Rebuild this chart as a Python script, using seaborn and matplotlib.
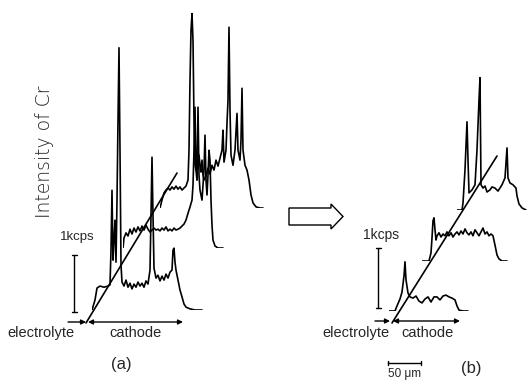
import matplotlib
matplotlib.use("Agg")
import matplotlib.pyplot as plt
from matplotlib.patches import Polygon
import pandas as pd
import seaborn as sns

# ---- Cr line scans (distance along scan in um, Cr intensity in cps) ----
# (a) before: three scans stacked along the depth direction
a1_dist = [0, 4.5, 7.5, 12, 18, 24, 27, 28.5, 30, 31.5, 33, 34.5, 36, 37.5, 39, 40.5, 42,
           43.5, 45, 48, 51, 54, 57, 60, 63, 66, 69, 72, 75, 78, 81, 84, 87, 88.5, 90, 91.5,
           93, 96, 99, 102, 105, 108, 111, 114, 117, 120, 121.5, 123, 124.5, 126, 129, 132,
           135, 138, 141, 147, 154.5, 165]
a1_cps = [0, 175, 385, 420, 400, 420, 440, 1050, 2100, 875, 1225, 1575, 840, 1925, 3325, 4600,
          2800, 790, 490, 420, 525, 400, 470, 370, 455, 400, 490, 420, 470, 400, 510, 455, 700,
          1660, 2680, 1660, 735, 560, 610, 510, 595, 525, 630, 560, 665, 700, 1050, 1085, 840,
          700, 525, 350, 230, 105, 50, 20, 0, 0]

a2_dist = [0, 1.5, 4.5, 7.5, 10.5, 13.5, 16.5, 19.5, 22.5, 25.5, 28.5, 31.5, 34.5, 37.5, 40.5,
           43.5, 46.5, 49.5, 52.5, 55.5, 58.5, 61.5, 64.5, 67.5, 70.5, 73.5, 76.5, 79.5, 82.5,
           85.5, 88.5, 91.5, 94.5, 97.5, 100.5, 103.5, 105, 106.5, 108, 109.5, 111, 112.5, 114,
           115.5, 118.5, 121.5, 123, 124.5, 126, 127.5, 129, 130.5, 132, 133.5, 135, 138, 142.5,
           150]
a2_cps = [0, 175, 265, 210, 330, 245, 350, 280, 370, 300, 385, 315, 400, 330, 280, 315, 350,
          315, 330, 300, 350, 315, 370, 300, 330, 300, 350, 315, 330, 350, 385, 420, 490, 610,
          720, 840, 1100, 1715, 2470, 1365, 1190, 2470, 1280, 1015, 840, 1365, 1980, 1190, 930,
          1280, 1715, 1540, 840, 400, 140, 35, 0, 0]

a3_dist = [0, 3, 6, 9, 12, 15, 18, 21, 24, 27, 30, 33, 36, 39, 42, 43.5, 45, 46.5, 48, 49.5,
           51, 52.5, 54, 55.5, 57, 58.5, 60, 61.5, 63, 64.5, 66, 69, 72, 75, 78, 81, 84, 87, 90,
           93, 94.5, 96, 99, 100.5, 102, 103.5, 105, 106.5, 109.5, 112.5, 115.5, 117, 120,
           121.5, 123, 124.5, 127.5, 130.5, 133.5, 136.5, 139.5, 144, 150, 154.5]
a3_cps = [0, 140, 265, 315, 350, 315, 370, 330, 385, 330, 370, 315, 350, 385, 490, 1015, 2240,
          3115, 3410, 2940, 1540, 750, 665, 805, 700, 930, 750, 630, 840, 580, 490, 560, 700,
          595, 750, 665, 840, 735, 875, 1015, 1365, 805, 1015, 1490, 1890, 3170, 1715, 930, 750,
          1015, 1660, 1015, 840, 1190, 2100, 1015, 750, 665, 490, 230, 90, 20, 0, 0]

# (b) after
b1_dist = [0, 9, 12, 16.5, 19.5, 22.5, 24, 25.5, 28.5, 31.5, 36, 40.5, 45, 49.5, 54, 58.5, 63,
           67.5, 72, 76.5, 81, 85.5, 90, 94.5, 99, 102, 105, 111, 118.5]
b1_cps = [0, 0, 85, 200, 315, 585, 820, 520, 300, 235, 215, 250, 165, 135, 200, 235, 150, 235,
          235, 185, 250, 265, 235, 215, 185, 85, 15, 0, 0]

b2_dist = [0, 10.5, 13.5, 15, 16.5, 18, 19.5, 21, 22.5, 25.5, 28.5, 31.5, 34.5, 37.5, 40.5,
           43.5, 46.5, 49.5, 52.5, 55.5, 58.5, 61.5, 64.5, 67.5, 70.5, 73.5, 76.5, 79.5, 82.5,
           85.5, 88.5, 91.5, 94.5, 97.5, 100.5, 103.5, 106.5, 109.5, 112.5, 115.5, 120, 127.5]
b2_cps = [0, 0, 135, 385, 670, 720, 520, 350, 420, 470, 400, 450, 420, 485, 420, 470, 400, 450,
          485, 435, 500, 450, 535, 470, 435, 485, 420, 520, 470, 420, 485, 550, 450, 485, 420,
          450, 420, 265, 100, 35, 0, 0]

b3_dist = [0, 7.5, 9, 12, 15, 16.5, 18, 22.5, 27, 30, 33, 34.5, 36, 39, 42, 45, 49.5, 52.5,
           57, 61.5, 67.5, 72, 75, 76.5, 79.5, 84, 88.5, 90, 93, 97.5, 103.5]
b3_cps = [0, 0, 115, 670, 1470, 835, 285, 335, 420, 1000, 1835, 2205, 420, 365, 400, 300, 335,
          385, 365, 315, 420, 535, 1035, 535, 450, 420, 365, 235, 100, 35, 0]

# ---- drawing ----
sns.set_style("white")
FONT = ["Liberation Sans", "DejaVu Sans"]
plt.rcParams["font.family"] = FONT

FIG_W, FIG_H = 527, 382
UM_PER_PX = 1.5
PX_PER_KCPS_A = 57
PX_PER_KCPS_B = 60
LW = 1.2

fig = plt.figure(figsize=(FIG_W / 100, FIG_H / 100), dpi=100)
fig.patch.set_facecolor("white")

# overlay in pixel units for the frame elements
ax = fig.add_axes([0, 0, 1, 1])
ax.set_xlim(0, FIG_W)
ax.set_ylim(FIG_H, 0)
ax.axis("off")


def trace(x0, base, dist, cps, px_per_kcps, w=140, h=330):
    """Draw one scan with its own axes anchored at (x0, base) in pixels."""
    tax = fig.add_axes([x0 / FIG_W, 1 - base / FIG_H, w / FIG_W, h / FIG_H])
    tax.set_xlim(0, w * UM_PER_PX)
    tax.set_ylim(0, h * 1000 / px_per_kcps)
    tax.axis("off")
    tax.patch.set_alpha(0)
    df = pd.DataFrame({"distance": dist, "cps": cps})
    sns.lineplot(data=df, x="distance", y="cps", ax=tax, color="black", linewidth=LW,
                 sort=False, estimator=None, legend=False)


# panel (a)
trace(92, 310, a1_dist, a1_cps, PX_PER_KCPS_A)
trace(123, 248, a2_dist, a2_cps, PX_PER_KCPS_A)
trace(160, 208, a3_dist, a3_cps, PX_PER_KCPS_A)
# panel (b)
trace(389, 311, b1_dist, b1_cps, PX_PER_KCPS_B)
trace(422, 261, b2_dist, b2_cps, PX_PER_KCPS_B)
trace(457, 210, b3_dist, b3_cps, PX_PER_KCPS_B)

# depth direction lines
ax.plot([86, 177], [323, 173], color="black", lw=LW)
ax.plot([392, 497], [323, 156], color="black", lw=LW)

# 1 kcps scale bars
for xb, yb, ppk in [(74, 312, PX_PER_KCPS_A), (378, 308, PX_PER_KCPS_B)]:
    ax.plot([xb, xb], [yb, yb - ppk], color="black", lw=1.0)
    ax.plot([xb - 2.5, xb + 2.5], [yb, yb], color="black", lw=1.0)
    ax.plot([xb - 2.5, xb + 2.5], [yb - ppk, yb - ppk], color="black", lw=1.0)
ax.text(77, 237, "1kcps", ha="center", va="center", fontsize=9.5)
ax.text(381, 235, "1kcps", ha="center", va="center", fontsize=10)

# electrolyte / cathode arrows
arr = dict(color="black", lw=1.0, mutation_scale=7, shrinkA=0, shrinkB=0)
ax.annotate("", xy=(86, 322), xytext=(68, 322), arrowprops=dict(arrowstyle="-|>", **arr))
ax.annotate("", xy=(183, 322), xytext=(88, 322), arrowprops=dict(arrowstyle="<|-|>", **arr))
ax.annotate("", xy=(390, 321), xytext=(375, 321), arrowprops=dict(arrowstyle="-|>", **arr))
ax.annotate("", xy=(460, 321), xytext=(393, 321), arrowprops=dict(arrowstyle="<|-|>", **arr))
ax.text(41, 333, "electrolyte", ha="center", va="center", fontsize=10.5)
ax.text(136, 333, "cathode", ha="center", va="center", fontsize=10.5)
ax.text(356, 333, "electrolyte", ha="center", va="center", fontsize=10.5)
ax.text(428, 333, "cathode", ha="center", va="center", fontsize=10.5)

# axis title
ax.text(45, 152, "Intensity of Cr", rotation=90, ha="center", va="center",
        fontsize=13.5, family=["DejaVu Sans"], fontweight=200, color="#222222")

# hollow arrow between panels
ax.add_patch(Polygon([(289, 208), (331, 208), (331, 204), (343, 216.5), (331, 229),
                      (331, 225), (289, 225)], closed=True, facecolor="white",
                     edgecolor="black", lw=1.0))

# 50 um scale bar
bx0 = 388
blen = 50 / UM_PER_PX
ax.plot([bx0, bx0 + blen], [363, 363], color="black", lw=1.0)
ax.plot([bx0, bx0], [361, 365], color="black", lw=1.0)
ax.plot([bx0 + blen, bx0 + blen], [361, 365], color="black", lw=1.0)
ax.text(bx0 + blen / 2, 374.5, "50 μm", ha="center", va="center", fontsize=8.5)

# panel labels
ax.text(121, 364, "(a)", ha="center", va="center", fontsize=12)
ax.text(471, 368, "(b)", ha="center", va="center", fontsize=12)

fig.savefig("out.png", dpi=100)
